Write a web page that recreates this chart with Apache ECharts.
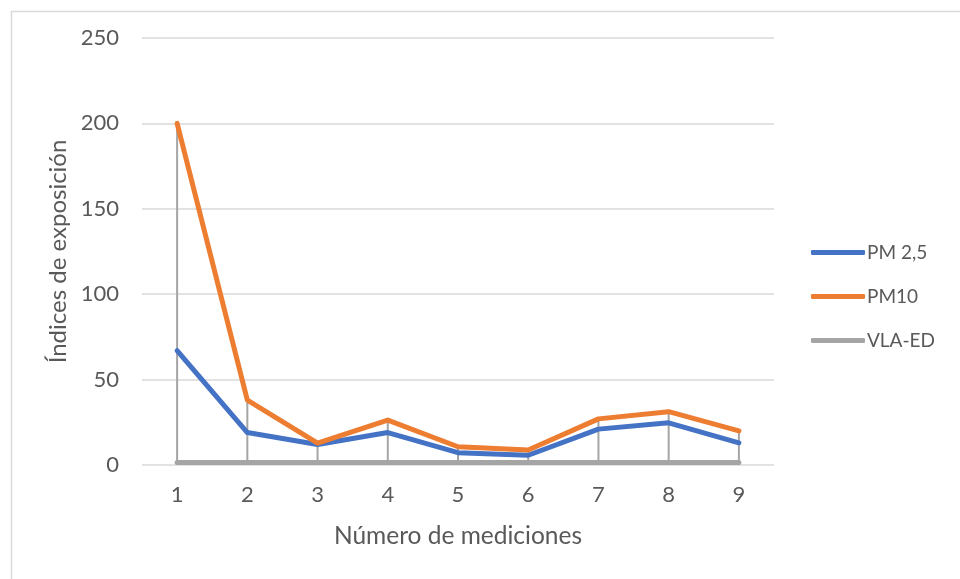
<!DOCTYPE html>
<html>
<head>
<meta charset="utf-8">
<script src="https://cdn.jsdelivr.net/npm/echarts@6/dist/echarts.min.js"></script>
<style>
  html, body { margin: 0; padding: 0; background: #fff; }
  #chart { width: 960px; height: 579px; }
</style>
</head>
<body>
<div id="chart"></div>
<script>
// Measurement numbers and exposure indices per series
const categories = ['1', '2', '3', '4', '5', '6', '7', '8', '9'];
const pm25 = [67, 19, 12, 19, 7.2, 5.7, 21, 24.7, 13];
const pm10 = [200, 38, 12.8, 26.3, 10.7, 8.8, 27, 31.2, 20];
const vlaEd = [1.5, 1.5, 1.5, 1.5, 1.5, 1.5, 1.5, 1.5, 1.5];
const yTicks = [0, 50, 100, 150, 200, 250];

// Drop lines reach the highest series value at each category
const dropTops = categories.map((_, i) => Math.max(pm25[i], pm10[i], vlaEd[i]));

const FONT = 'Lato';
const TXT = '#595959';

const chart = echarts.init(document.getElementById('chart'), null, { renderer: 'canvas' });

chart.setOption({
  backgroundColor: '#ffffff',
  animation: false,
  textStyle: { fontFamily: FONT },
  graphic: [{
    type: 'rect',
    left: 9, top: 9,
    shape: { width: 980, height: 600 },
    style: { fill: 'none', stroke: '#d9d9d9', lineWidth: 1.5 },
    silent: true
  }],
  grid: { left: 142, right: 186, top: 38, bottom: 114 },
  legend: {
    data: ['PM 2,5', 'PM10', 'VLA-ED'],
    orient: 'vertical',
    left: 806, top: 238,
    itemWidth: 54, itemHeight: 5, itemGap: 25,
    icon: 'roundRect',
    textStyle: { fontFamily: FONT, fontSize: 19, color: TXT, padding: [0, 0, 0, -3] }
  },
  xAxis: {
    type: 'category',
    data: categories,
    boundaryGap: true,
    axisLine: { show: false },
    axisTick: { show: false },
    axisLabel: { fontFamily: FONT, fontSize: 22, color: TXT, margin: 19 },
    name: 'Número de mediciones',
    nameLocation: 'middle',
    nameGap: 59,
    nameTextStyle: { fontFamily: FONT, fontSize: 24.5, color: TXT }
  },
  yAxis: {
    type: 'value',
    min: yTicks[0], max: yTicks[yTicks.length - 1], interval: 50,
    axisLine: { show: false },
    axisTick: { show: false },
    splitLine: { lineStyle: { color: '#d9d9d9', width: 1.5 } },
    axisLabel: { fontFamily: FONT, fontSize: 22, color: TXT, margin: 23 },
    name: 'Índices de exposición',
    nameLocation: 'middle',
    nameGap: 68,
    nameTextStyle: { fontFamily: FONT, fontSize: 24, color: TXT }
  },
  series: [
    {
      name: 'drop',
      type: 'bar',
      data: dropTops,
      barWidth: 2,
      itemStyle: { color: '#a5a5a5' },
      z: 1,
      silent: true
    },
    {
      name: 'VLA-ED', type: 'line', data: vlaEd,
      symbol: 'none', z: 2,
      lineStyle: { width: 5, color: '#a5a5a5', cap: 'round' },
      itemStyle: { color: '#a5a5a5' }
    },
    {
      name: 'PM 2,5', type: 'line', data: pm25,
      symbol: 'none', z: 3,
      lineStyle: { width: 5, color: '#4472c4', cap: 'round', join: 'round' },
      itemStyle: { color: '#4472c4' }
    },
    {
      name: 'PM10', type: 'line', data: pm10,
      symbol: 'none', z: 4,
      lineStyle: { width: 5, color: '#ed7d31', cap: 'round', join: 'round' },
      itemStyle: { color: '#ed7d31' }
    }
  ]
});
</script>
</body>
</html>
